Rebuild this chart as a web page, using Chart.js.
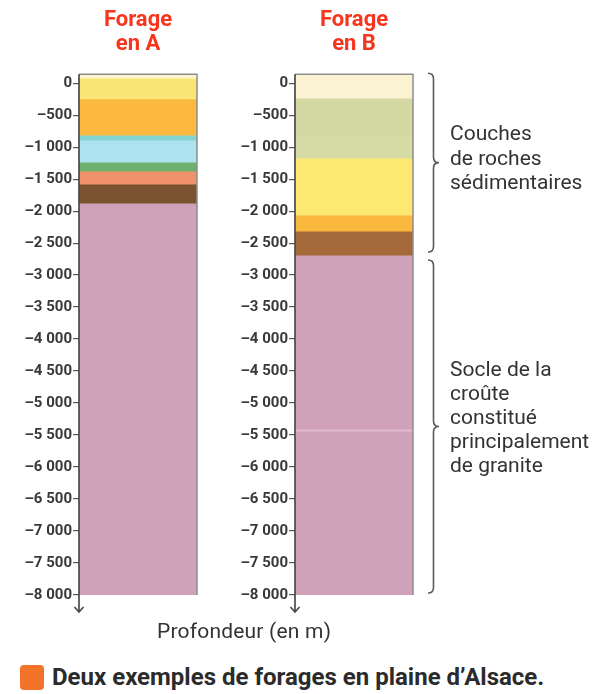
<!DOCTYPE html>
<html>
<head>
<meta charset="utf-8">
<script src="https://cdn.jsdelivr.net/npm/chart.js@4"></script>
<style>
  body { margin: 0; background: #fff; width: 596px; height: 694px; position: relative; overflow: hidden; font-family: Roboto, "Noto Sans", sans-serif; }
  #canvaA { position: absolute; left: 0; top: 0; }
  #canvaB { position: absolute; left: 216px; top: 0; }
  #axe { position: absolute; left: 157px; top: 619px; font-size: 21px; letter-spacing: 0.2px; color: #333; }
  #legende { position: absolute; left: 20px; top: 664px; height: 26px; display: flex; align-items: center; }
  #carre { width: 24px; height: 25px; background: #f37328; border-radius: 4px; margin-right: 8px; }
  #texte { font-size: 24px; font-weight: bold; color: #2b2b2b; white-space: nowrap; }
</style>
</head>
<body>
<canvas id="canvaA" width="200" height="620"></canvas>
<canvas id="canvaB" width="380" height="620"></canvas>
<div id="axe">Profondeur (en m)</div>
<div id="legende"><div id="carre"></div><div id="texte">Deux exemples de forages en plaine d’Alsace.</div></div>
<script>
// profondeurs des graduations (m)
const graduations = [0, -500, -1000, -1500, -2000, -2500, -3000, -3500, -4000, -4500, -5000, -5500, -6000, -6500, -7000, -7500, -8000];
const etiquettes = ["0", "–500", "–1 000", "–1 500", "–2 000", "–2 500", "–3 000", "–3 500", "–4 000", "–4 500", "–5 000", "–5 500", "–6 000", "–6 500", "–7 000", "–7 500", "–8 000"];

// limites des couches (m) et couleurs, forage A
const limitesA = [140, 78, -245, -812, -890, -1234, -1375, -1578, -1875, -8000];
const couleursA = ["#fdf3cc", "#fbe577", "#fbb93f", "#86d4d2", "#ade2ef", "#6cb16f", "#ee916a", "#7a5331", "#cfa2b9"];

// forage B
const limitesB = [140, -234, -812, -1172, -2062, -2312, -2687, -5410, -5440, -8000];
const couleursB = ["#fbf2d1", "#d3d7a1", "#d6dba6", "#fde872", "#fbb83f", "#a5693a", "#cfa2b9", "#e0bacb", "#cfa2b9"];

// accolades : textes et couches couvertes
const texteSediments = ["Couches", "de roches", "sédimentaires"];
const texteSocle = ["Socle de la", "croûte", "constitué", "principalement", "de granite"];
const baseSediments = -2687;

function couches(limites, couleurs) {
    return couleurs.map(function(c, i){
        return {
            data: [[limites[i], limites[i + 1]]],
            backgroundColor: c,
            borderWidth: 0,
            barPercentage: 1,
            categoryPercentage: 1
        };
    });
}

const cadre = {
    id: "cadre",
    afterDatasetsDraw(chart){
        const ctx = chart.ctx, a = chart.chartArea;
        ctx.save();
        ctx.strokeStyle = "#8d8d8d";
        ctx.lineWidth = 1.5;
        ctx.beginPath();
        ctx.moveTo(a.left, a.top);
        ctx.lineTo(a.right, a.top);
        ctx.lineTo(a.right, a.bottom);
        ctx.stroke();
        ctx.strokeStyle = "#4a4a4a";
        ctx.lineWidth = 1.7;
        ctx.beginPath();
        ctx.moveTo(a.left, a.top);
        ctx.lineTo(a.left, a.bottom + 17);
        ctx.moveTo(a.left - 4.5, a.bottom + 12);
        ctx.lineTo(a.left, a.bottom + 17);
        ctx.lineTo(a.left + 4.5, a.bottom + 12);
        ctx.stroke();
        ctx.restore();
    }
};

function accolade(ctx, x, y1, y2){
    const r = 5.5, ym = (y1 + y2) / 2;
    ctx.beginPath();
    ctx.moveTo(x, y1);
    ctx.quadraticCurveTo(x + r, y1, x + r, y1 + r);
    ctx.lineTo(x + r, ym - r);
    ctx.quadraticCurveTo(x + r, ym, x + 2 * r, ym);
    ctx.quadraticCurveTo(x + r, ym, x + r, ym + r);
    ctx.lineTo(x + r, y2 - r);
    ctx.quadraticCurveTo(x + r, y2, x, y2);
    ctx.stroke();
}

const accolades = {
    id: "accolades",
    afterDraw(chart){
        const ctx = chart.ctx, a = chart.chartArea, y = chart.scales.y;
        const x = a.right + 15;
        const haut1 = a.top - 1, bas1 = y.getPixelForValue(baseSediments) - 3;
        const haut2 = y.getPixelForValue(baseSediments) + 5, bas2 = a.bottom - 2;
        ctx.save();
        ctx.strokeStyle = "#5a5a5a";
        ctx.lineWidth = 1.6;
        accolade(ctx, x, haut1, bas1);
        accolade(ctx, x, haut2, bas2);
        ctx.fillStyle = "#333";
        ctx.font = "21px Roboto";
        ctx.textBaseline = "middle";
        let m = (haut1 + bas1) / 2 - 3;
        texteSediments.forEach(function(t, i){
            ctx.fillText(t, a.right + 37, m + (i - (texteSediments.length - 1) / 2) * 24.5);
        });
        m = (haut2 + bas2) / 2 - 8;
        texteSocle.forEach(function(t, i){
            ctx.fillText(t, a.right + 37, m + (i - (texteSocle.length - 1) / 2) * 24);
        });
        ctx.restore();
    }
};

function forage(id, titre, limites, couleurs, droite, plugins){
    return new Chart(document.getElementById(id), {
        type: "bar",
        data: {
            labels: [titre],
            datasets: couches(limites, couleurs)
        },
        options: {
            responsive: false,
            animation: false,
            layout: { padding: { top: 0, bottom: 25, right: droite, left: 0 } },
            plugins: {
                legend: { display: false },
                tooltip: { enabled: false },
                title: {
                    display: true,
                    text: ["Forage", titre],
                    color: "#f7341c",
                    fullSize: false,
                    font: { family: "Roboto", size: 22, weight: "bold", lineHeight: 1.1 },
                    padding: { top: 8, bottom: 17.8 }
                }
            },
            scales: {
                x: { display: false, stacked: true },
                y: {
                    min: -8000,
                    max: 140,
                    stacked: false,
                    afterBuildTicks: function(s){ s.ticks = graduations.map(function(v){ return { value: v }; }); },
                    afterFit: function(s){ s.width = 79; },
                    border: { display: false },
                    grid: { drawOnChartArea: false, tickLength: 6, color: "#555", lineWidth: 1.2 },
                    ticks: {
                        padding: 1,
                        color: "#383838",
                        font: { family: "Roboto", size: 15, weight: "bold" },
                        callback: function(v){ return etiquettes[graduations.indexOf(v)]; }
                    }
                }
            }
        },
        plugins: plugins
    });
}

window.onload = function(){
    forage("canvaA", "en A", limitesA, couleursA, 3, [cadre]);
    forage("canvaB", "en B", limitesB, couleursB, 183, [cadre, accolades]);
};
</script>
</body>
</html>
